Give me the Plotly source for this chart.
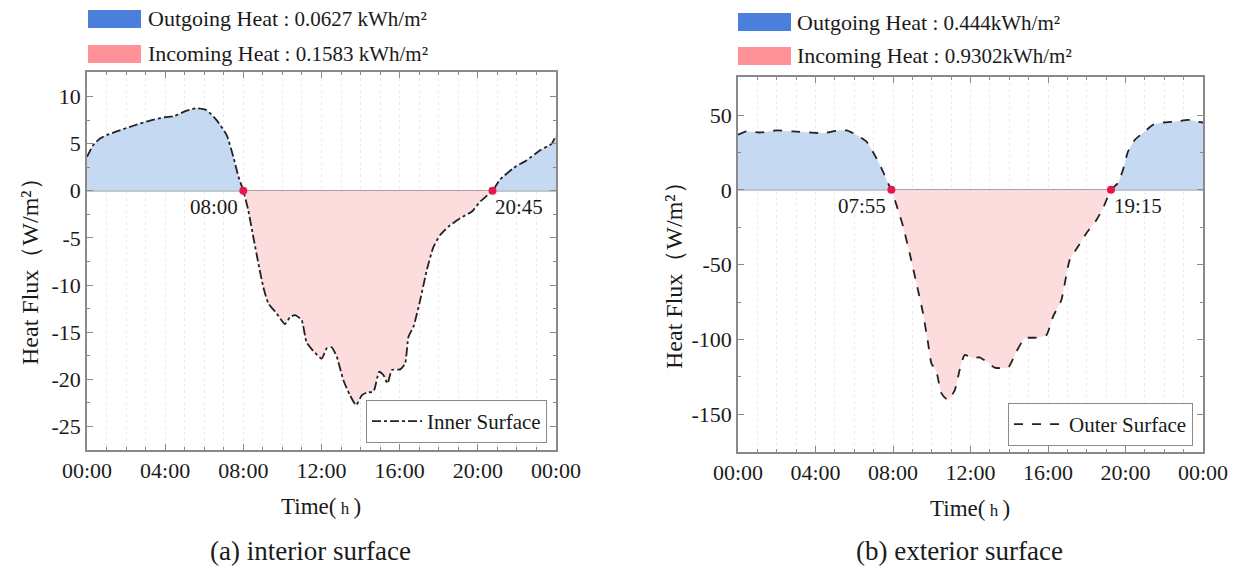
import numpy as np
import plotly.graph_objects as go

# ---------------- data ----------------
inner_hours = [0.0, 0.32, 0.67, 1.01, 1.52, 2.37, 3.22, 3.99, 4.42, 5.1, 5.6, 6.12, 6.63, 7.15, 7.49, 7.75, 8.0,
               8.25, 8.51, 8.77, 9.02, 9.28, 9.7, 10.13, 10.39, 10.64, 10.98, 11.24, 11.67, 12.01, 12.27, 12.52,
               12.78, 13.12, 13.46, 13.77, 14.06, 14.32, 14.66, 14.95, 15.17, 15.38, 15.6, 16.03, 16.28, 16.45,
               16.71, 17.05, 17.39, 17.73, 18.07, 18.5, 19.1, 19.7, 20.12, 20.75, 21.14, 21.82, 22.5, 23.19, 23.78, 24.0]
inner_flux = [3.6, 4.85, 5.55, 5.9, 6.3, 6.9, 7.45, 7.8, 7.9, 8.5, 8.75, 8.55, 7.5, 5.9, 3.6, 1.5, 0.0,
              -2.05, -4.9, -7.7, -10.2, -11.95, -13.0, -14.15, -13.4, -13.2, -13.7, -16.1, -17.2, -17.8, -16.7, -16.6,
              -17.6, -20.1, -21.7, -22.75, -21.7, -21.4, -21.3, -19.2, -19.55, -20.45, -19.0, -18.95, -18.3, -15.5,
              -14.4, -11.6, -8.4, -5.95, -4.7, -3.8, -2.9, -2.2, -1.15, 0.0, 1.2, 2.4, 3.25, 4.3, 5.0, 5.9]

outer_hours = [0.0, 0.43, 1.12, 1.98, 2.84, 3.7, 4.39, 5.08, 5.6, 6.11, 6.63, 7.14, 7.48, 7.74, 7.917,
               8.26, 8.52, 8.86, 9.21, 9.55, 9.81, 9.98, 10.24, 10.5, 10.84, 11.19, 11.44, 11.7, 12.13, 12.47,
               12.82, 13.25, 13.94, 14.37, 14.8, 15.4, 15.92, 16.26, 16.69, 17.12, 17.55, 17.98, 18.5, 18.84,
               19.25, 19.61, 19.87, 20.13, 20.48, 20.9, 21.42, 21.94, 22.63, 23.23, 23.66, 24.0]
outer_flux = [36.8, 39.0, 38.3, 39.7, 39.0, 38.3, 37.9, 39.5, 39.7, 36.8, 32.3, 21.2, 12.3, 4.5, 0.0,
              -13.4, -24.5, -42.4, -62.4, -82.5, -102.5, -115.9, -121.5, -136.0, -140.5, -133.8, -120.4, -110.4, -112.6, -111.9,
              -114.8, -118.8, -118.8, -108.1, -99.2, -98.8, -97.0, -84.7, -73.6, -46.8, -37.9, -29.0, -20.1, -12.3,
              0.0, 4.5, 13.4, 25.6, 33.4, 37.9, 43.5, 45.0, 45.7, 46.8, 45.7, 45.0]

inner_cross_hours = [8.0, 20.75]
inner_cross_labels = ["08:00", "20:45"]
outer_cross_hours = [7.917, 19.25]
outer_cross_labels = ["07:55", "19:15"]

x_tickvals = [0, 4, 8, 12, 16, 20, 24]
x_ticktext = ["00:00", "04:00", "08:00", "12:00", "16:00", "20:00", "00:00"]
inner_yticks = [10, 5, 0, -5, -10, -15, -20, -25]
outer_yticks = [50, 0, -50, -100, -150]

inner_totals = ["0.0627 kWh/m²", "0.1583 kWh/m²"]
outer_totals = ["0.444kWh/m²", "0.9302kWh/m²"]

# ---------------- style ----------------
W, H = 1237, 570
FONT = "Liberation Serif"
TXT = "#1a1a1a"
BLUE_FILL = "rgba(198,217,242,1)"
PINK_FILL = "rgba(253,220,222,1)"
BLUE_SW = "#4a80dc"
PINK_SW = "#fe9298"
DOT = "#e5184b"
FRAME = "#8a8a8a"

def px(x):
    return x / W

def py(y):
    return 1 - y / H

fig = go.Figure()

def add_panel(hours, flux, cross_h, xa, ya, dash, name, legend):
    h = np.array(hours)
    f = np.array(flux)
    pos = np.clip(f, 0, None)
    neg = np.clip(f, None, 0)
    fig.add_trace(go.Scatter(x=h, y=pos, mode="lines", line=dict(width=0, shape="spline", smoothing=0.5),
                             fill="tozeroy", fillcolor=BLUE_FILL, showlegend=False, hoverinfo="skip",
                             xaxis=xa, yaxis=ya))
    fig.add_trace(go.Scatter(x=h, y=neg, mode="lines", line=dict(width=0, shape="spline", smoothing=0.5),
                             fill="tozeroy", fillcolor=PINK_FILL, showlegend=False, hoverinfo="skip",
                             xaxis=xa, yaxis=ya))
    fig.add_trace(go.Scatter(x=h, y=f, mode="lines", name=name,
                             line=dict(color="#222222", width=1.8, dash=dash, shape="spline", smoothing=0.5),
                             xaxis=xa, yaxis=ya, legend=legend))
    fig.add_trace(go.Scatter(x=cross_h, y=[0] * len(cross_h), mode="markers",
                             marker=dict(color=DOT, size=8), showlegend=False, hoverinfo="skip",
                             xaxis=xa, yaxis=ya))

add_panel(inner_hours, inner_flux, inner_cross_hours, "x", "y", "dashdot", "Inner Surface", "legend")
add_panel(outer_hours, outer_flux, outer_cross_hours, "x2", "y2", "dash", "Outer Surface", "legend2")

def xaxis_cfg(domain, anchor):
    return dict(domain=domain, anchor=anchor, range=[0, 24], tickmode="array", tickvals=x_tickvals,
                ticktext=x_ticktext, ticks="inside", ticklen=6, tickwidth=1, tickcolor=FRAME,
                showline=True, linecolor=FRAME, linewidth=1.5, mirror="ticks",
                showgrid=True, gridcolor="#ececec", griddash="dot", gridwidth=1,
                minor=dict(dtick=1, tick0=0, ticks="inside", ticklen=3, tickcolor=FRAME,
                           showgrid=True, gridcolor="#ececec", griddash="dot"),
                tickfont=dict(family=FONT, size=22, color=TXT), zeroline=False, fixedrange=True,
                automargin=False)

def yaxis_cfg(domain, anchor, rng, ticks, mdt):
    return dict(domain=domain, anchor=anchor, range=rng, tickmode="array", tickvals=ticks,
                ticktext=[str(t) for t in ticks], ticks="inside", ticklen=6, tickwidth=1, tickcolor=FRAME,
                showline=True, linecolor=FRAME, linewidth=1.5, mirror="ticks", showgrid=False,
                minor=dict(dtick=mdt, tick0=0, ticks="inside", ticklen=3, tickcolor=FRAME, showgrid=False),
                tickfont=dict(family=FONT, size=22, color=TXT), zeroline=False, fixedrange=True,
                automargin=False)

L_X = [px(87), px(556)]
L_Y = [py(450), py(72)]
R_X = [px(738), px(1203)]
R_Y = [py(452), py(77)]

fig.update_layout(
    width=W, height=H, margin=dict(l=0, r=0, t=0, b=0, autoexpand=False),
    paper_bgcolor="white", plot_bgcolor="white",
    xaxis=xaxis_cfg(L_X, "y"), yaxis=yaxis_cfg(L_Y, "x", [-27.5, 12.6], inner_yticks, 2.5),
    xaxis2=xaxis_cfg(R_X, "y2"), yaxis2=yaxis_cfg(R_Y, "x2", [-175.2, 75.4], outer_yticks, 25),
    hovermode=False,
    legend=dict(x=px(547), y=py(443), xanchor="right", yanchor="bottom", bgcolor="white",
                bordercolor=FRAME, borderwidth=1, font=dict(family=FONT, size=21, color=TXT),
                itemwidth=50, tracegroupgap=0),
    legend2=dict(x=px(1193), y=py(446), xanchor="right", yanchor="bottom", bgcolor="white",
                 bordercolor=FRAME, borderwidth=1, font=dict(family=FONT, size=21, color=TXT),
                 itemwidth=50, tracegroupgap=0),
)

shapes = []
# zero reference lines
for xr, yr in [("x", "y"), ("x2", "y2")]:
    shapes.append(dict(type="line", xref=f"{xr} domain", yref=yr, x0=0, x1=1, y0=0, y1=0,
                       line=dict(color="#8c8c8c", width=1.5), layer="below"))
# top legend swatches
for (x0, y0, col) in [(88, 10, BLUE_SW), (88, 45, PINK_SW), (738, 13, BLUE_SW), (738, 47, PINK_SW)]:
    shapes.append(dict(type="rect", xref="paper", yref="paper", x0=px(x0), x1=px(x0 + 53),
                       y0=py(y0), y1=py(y0 + 18), fillcolor=col, line=dict(width=0)))
fig.update_layout(shapes=shapes)

ann = []
def add_text(x, y, text, size, xanchor="left", yanchor="middle", angle=0):
    ann.append(dict(x=px(x), y=py(y), xref="paper", yref="paper", text=text, showarrow=False,
                    xanchor=xanchor, yanchor=yanchor, textangle=angle,
                    font=dict(family=FONT, size=size, color=TXT)))

def legend_line(label, val):
    return f"{label}<span style='font-size:21px'> : {val}</span>"

add_text(146, 19, legend_line("Outgoing Heat", inner_totals[0]), 22)
add_text(146, 54, legend_line("Incoming Heat", inner_totals[1]), 22)
add_text(795, 22, legend_line("Outgoing Heat", outer_totals[0]), 22)
add_text(795, 56, legend_line("Incoming Heat", outer_totals[1]), 22)

# axis titles
add_text(30, 266, "Heat Flux（W/m²）", 24, xanchor="center", angle=-90)
add_text(674, 270, "Heat Flux（W/m²）", 24, xanchor="center", angle=-90)
add_text(321, 506, "Time(<span style='font-size:17px'> h </span>)", 23, xanchor="center")
add_text(970, 508, "Time(<span style='font-size:17px'> h </span>)", 23, xanchor="center")

# captions
add_text(310, 551, "(a) interior surface", 27, xanchor="center")
add_text(960, 551, "(b) exterior surface", 27, xanchor="center")

# crossing labels (data coordinates)
for hx, lab, xa, ya in [(inner_cross_hours[0], inner_cross_labels[0], "x", "y"),
                        (inner_cross_hours[1], inner_cross_labels[1], "x", "y"),
                        (outer_cross_hours[0], outer_cross_labels[0], "x2", "y2"),
                        (outer_cross_hours[1], outer_cross_labels[1], "x2", "y2")]:
    left_side = lab in ("08:00", "07:55")
    ann.append(dict(x=hx, y=0, xref=xa, yref=ya, text=lab, showarrow=False,
                    xanchor="right" if left_side else "left", yanchor="top",
                    xshift=-3 if left_side else 1, yshift=-2,
                    font=dict(family=FONT, size=21, color=TXT)))

fig.update_layout(annotations=ann)

fig.write_html("out.html", config={"displayModeBar": False},
               post_script="document.body.style.margin='0px';document.body.style.overflow='hidden';")
